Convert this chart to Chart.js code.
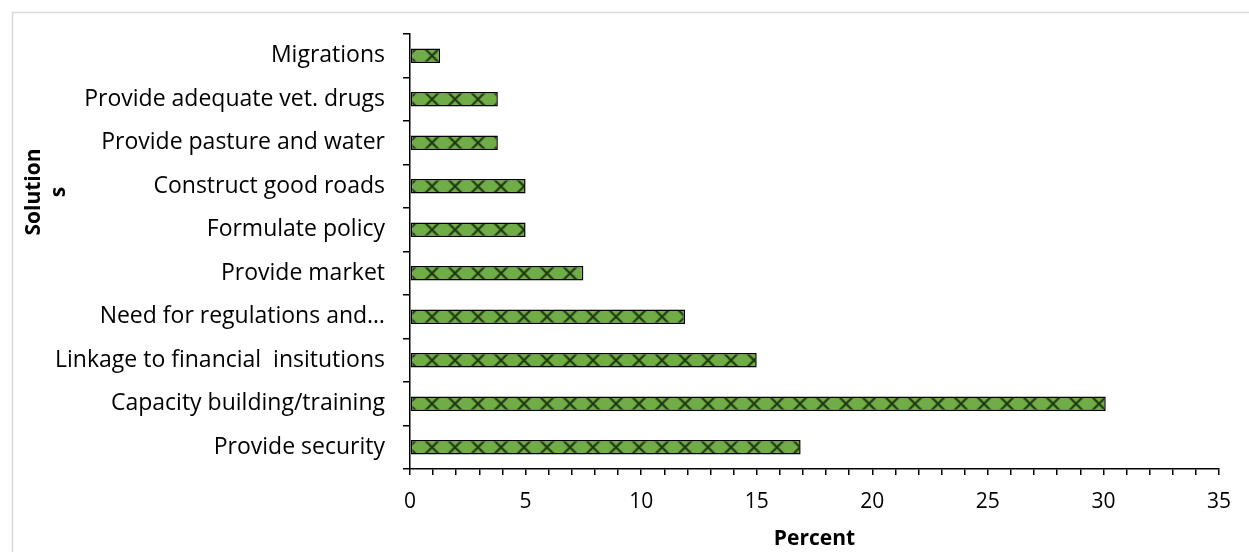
<!DOCTYPE html>
<html>
<head>
<meta charset="utf-8">
<title>Solutions</title>
<script src="https://cdn.jsdelivr.net/npm/chart.js@4/dist/chart.umd.min.js"></script>
<style>
    html, body { margin: 0; padding: 0; background: #ffffff; }
    #wrap { width: 1249px; height: 552px; }
</style>
</head>
<body>
<div id="wrap"><canvas id="chart" width="1249" height="552"></canvas></div>
<script>
// Data (top to bottom as shown)
const categories = [
    'Migrations',
    'Provide adequate vet. drugs',
    'Provide pasture and water',
    'Construct good roads',
    'Formulate policy',
    'Provide market',
    'Need for regulations and\u2026',
    'Linkage to financial  insitutions',
    'Capacity building/training',
    'Provide security'
];
const percentValues = [1.3, 3.8, 3.8, 5.0, 5.0, 7.5, 11.9, 15.0, 30.1, 16.9];
const xTicksMax = 35;
const yTitleLines = ['Solution', 's'];
const xTitle = 'Percent';

const FONT = '"Open Sans", Calibri, Carlito, sans-serif';
const GREEN = '#70ad47';
const HATCH = '#1c3410';
const PERIOD = 23;

// Cross-hatch pattern, aligned to each bar
function hatchFill(context) {
    const chart = context.chart;
    const yScale = chart.scales.y;
    if (context.type !== 'data' || !yScale || !chart.chartArea) return GREEN;
    const cy = yScale.getPixelForValue(context.dataIndex);

    const tile = document.createElement('canvas');
    tile.width = PERIOD;
    tile.height = PERIOD;
    const t = tile.getContext('2d');
    t.fillStyle = GREEN;
    t.fillRect(0, 0, PERIOD, PERIOD);
    t.strokeStyle = HATCH;
    t.lineWidth = 2;
    t.beginPath();
    for (const off of [-PERIOD, 0, PERIOD]) {
        t.moveTo(off, 0); t.lineTo(off + PERIOD, PERIOD);
        t.moveTo(off + PERIOD, 0); t.lineTo(off, PERIOD);
    }
    t.stroke();

    const pattern = chart.ctx.createPattern(tile, 'repeat');
    pattern.setTransform(new DOMMatrix().translate(chart.chartArea.left - 1 - PERIOD / 2, cy - PERIOD / 2));
    return pattern;
}

// Light frame around the chart (cut off at right/bottom like the original)
const framePlugin = {
    id: 'frame',
    beforeDraw(chart) {
        const c = chart.ctx;
        c.save();
        c.strokeStyle = '#d9d9d9';
        c.lineWidth = 1.5;
        c.strokeRect(12.5, 12.5, chart.width + 20, chart.height + 20);
        c.restore();
    }
};

// Y-axis title, wrapped onto two lines like the original
const yTitlePlugin = {
    id: 'yTitle',
    afterDraw(chart) {
        const c = chart.ctx;
        const area = chart.chartArea;
        c.save();
        c.font = 'bold 21px ' + FONT;
        c.fillStyle = '#000';
        c.textAlign = 'center';
        c.textBaseline = 'middle';
        c.translate(area.left - 376, area.top + 158);
        c.rotate(-Math.PI / 2);
        yTitleLines.forEach((line, i) => c.fillText(line, 0, i * 25));
        c.restore();
    }
};

const chart = new Chart(document.getElementById('chart').getContext('2d'), {
    type: 'bar',
    data: {
        labels: categories,
        datasets: [{
            data: percentValues,
            backgroundColor: hatchFill,
            borderColor: '#000000',
            borderWidth: 1.5,
            borderSkipped: false,
            barPercentage: 0.33,
            categoryPercentage: 1.0
        }]
    },
    options: {
        indexAxis: 'y',
        responsive: false,
        animation: false,
        layout: { padding: { left: 0, top: 34, right: 30, bottom: 0 } },
        plugins: {
            legend: { display: false },
            tooltip: { enabled: false }
        },
        scales: {
            x: {
                min: 0,
                max: xTicksMax,
                afterFit: (scale) => { scale.height = 83; },
                border: { color: '#000', width: 1.5 },
                grid: {
                    drawOnChartArea: false,
                    color: '#000',
                    lineWidth: 1.5,
                    tickLength: 6
                },
                ticks: {
                    stepSize: 1,
                    autoSkip: false,
                    maxRotation: 0,
                    padding: 14,
                    color: '#000',
                    font: { family: FONT, size: 21 },
                    callback: (v) => (v % 5 === 0 ? v : '')
                },
                title: {
                    display: true,
                    text: xTitle,
                    color: '#000',
                    font: { family: FONT, size: 21, weight: 'bold' },
                    padding: { top: 0, bottom: 0 }
                }
            },
            y: {
                afterFit: (scale) => { scale.width = 410; },
                border: { color: '#000', width: 1.5 },
                grid: {
                    drawOnChartArea: false,
                    color: '#000',
                    lineWidth: 1.5,
                    tickLength: 7
                },
                ticks: {
                    padding: 18,
                    autoSkip: false,
                    color: '#000',
                    font: { family: FONT, size: 23 }
                }
            }
        }
    },
    plugins: [framePlugin, yTitlePlugin]
});
</script>
</body>
</html>
